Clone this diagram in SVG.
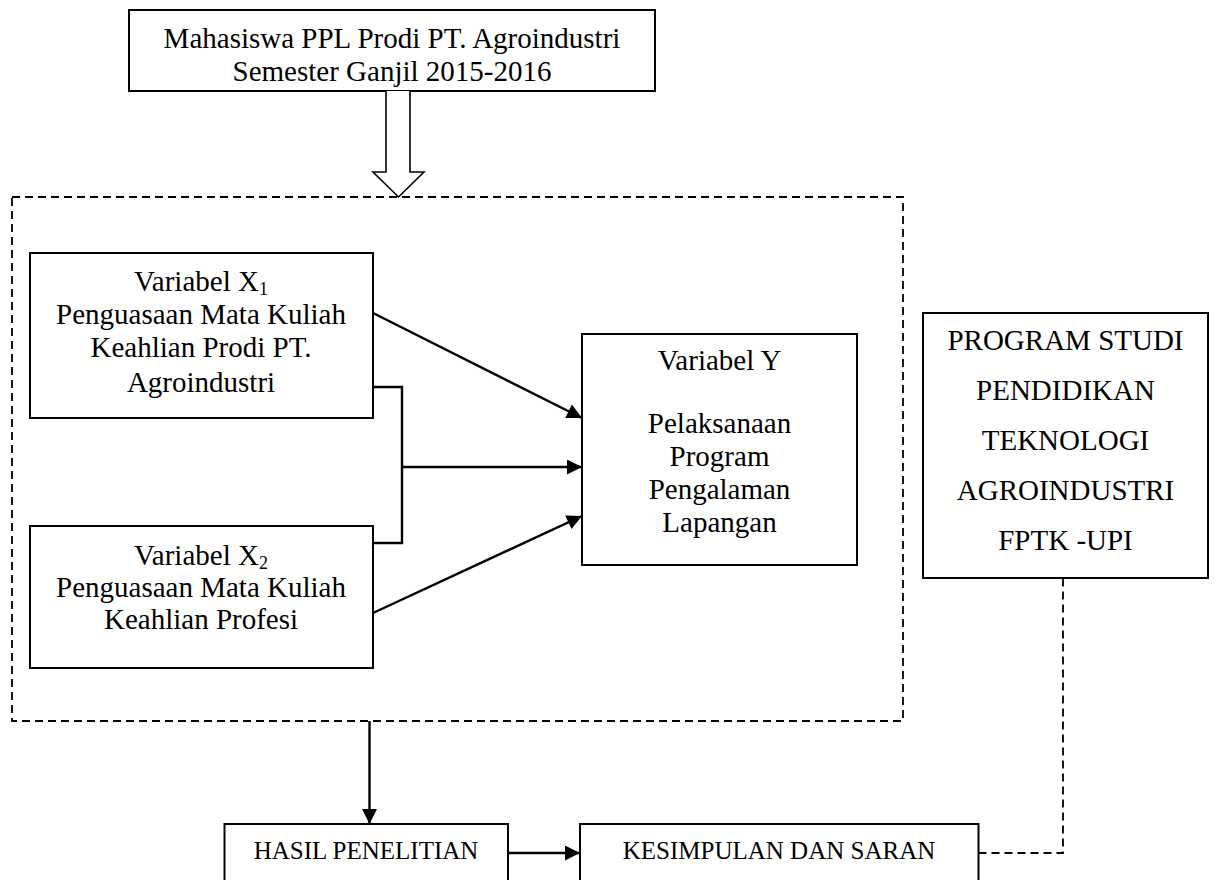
<svg xmlns="http://www.w3.org/2000/svg" width="1216" height="880" viewBox="0 0 1216 880">
<style>
.box{fill:#fff;stroke:#000;stroke-width:2}
.t{font-family:"Liberation Serif","Times New Roman",serif;font-size:29px;fill:#000;text-anchor:middle}
.ts{font-family:"Liberation Serif","Times New Roman",serif;font-size:25px;fill:#000;text-anchor:middle}
.sub{font-size:18px}
.c{fill:none;stroke:#000;stroke-width:2.4}
.d{fill:none;stroke:#000;stroke-width:1.8;stroke-dasharray:8 5}
</style>
<defs>
<marker id="ah" viewBox="0 0 10 10" refX="10" refY="5" markerUnits="userSpaceOnUse" markerWidth="18" markerHeight="15" orient="auto">
<path d="M0,0 L10,5 L0,10 z" fill="#000"/>
</marker>
</defs>
<rect x="0" y="0" width="1216" height="880" fill="#fff"/>

<g id="frame">
<rect class="d" x="12" y="197" width="891" height="524"/>
</g>

<g id="top">
<rect class="box" x="129" y="10" width="526" height="81"/>
<text class="t" x="392" y="48">Mahasiswa PPL Prodi PT. Agroindustri</text>
<text class="t" x="392" y="81">Semester Ganjil 2015-2016</text>
</g>

<g id="x1">
<rect class="box" x="30" y="253" width="343" height="165"/>
<text class="t" x="201" y="291">Variabel X<tspan class="sub" dy="4">1</tspan></text>
<text class="t" x="201" y="324">Penguasaan Mata Kuliah</text>
<text class="t" x="201" y="357">Keahlian Prodi PT.</text>
<text class="t" x="201" y="392">Agroindustri</text>
</g>

<g id="x2">
<rect class="box" x="30" y="526" width="343" height="142"/>
<text class="t" x="201" y="565">Variabel X<tspan class="sub" dy="4">2</tspan></text>
<text class="t" x="201" y="597">Penguasaan Mata Kuliah</text>
<text class="t" x="201" y="629">Keahlian Profesi</text>
</g>

<g id="y">
<rect class="box" x="582" y="334" width="275" height="231"/>
<text class="t" x="719.5" y="370">Variabel Y</text>
<text class="t" x="719.5" y="433">Pelaksanaan</text>
<text class="t" x="719.5" y="466">Program</text>
<text class="t" x="719.5" y="499">Pengalaman</text>
<text class="t" x="719.5" y="532">Lapangan</text>
</g>

<g id="prodi">
<rect class="box" x="923" y="313" width="285" height="265"/>
<text class="t" x="1065.5" y="350">PROGRAM STUDI</text>
<text class="t" x="1065.5" y="400">PENDIDIKAN</text>
<text class="t" x="1065.5" y="450">TEKNOLOGI</text>
<text class="t" x="1065.5" y="500">AGROINDUSTRI</text>
<text class="t" x="1065.5" y="550">FPTK -UPI</text>
</g>

<g id="hasil">
<rect class="box" x="224.5" y="824" width="283.5" height="70"/>
<text class="ts" x="366" y="859">HASIL PENELITIAN</text>
</g>

<g id="kesimpulan">
<rect class="box" x="580" y="824" width="398.5" height="70"/>
<text class="ts" x="779" y="859">KESIMPULAN DAN SARAN</text>
</g>

<g id="connectors">
<path d="M386,91 V172 H373 L398.5,197 L424,172 H410 V91" fill="#fff" stroke="#000" stroke-width="1.6" stroke-linejoin="miter"/>
<line class="c" x1="373" y1="313" x2="582" y2="418" marker-end="url(#ah)"/>
<polyline class="c" points="373,387 402,387 402,543 373,543"/>
<line class="c" x1="402" y1="467" x2="582" y2="467" marker-end="url(#ah)"/>
<line class="c" x1="373" y1="613" x2="582" y2="516" marker-end="url(#ah)"/>
<line class="c" x1="369.5" y1="721" x2="369.5" y2="824" marker-end="url(#ah)"/>
<line class="c" x1="508" y1="853" x2="580" y2="853" marker-end="url(#ah)"/>
<polyline class="d" points="978.5,853 1063,853 1063,578"/>
</g>
</svg>
